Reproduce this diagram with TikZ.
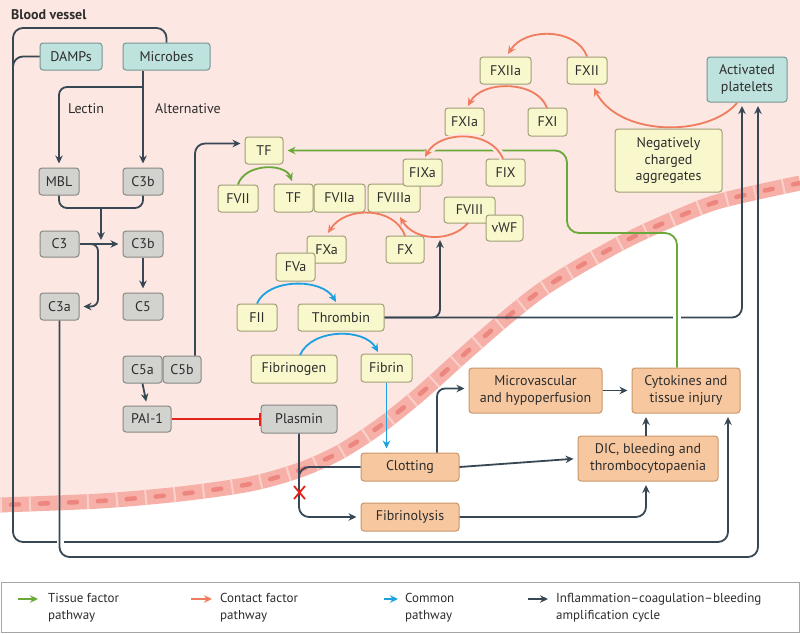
\documentclass[tikz,border=0pt]{standalone}
\usepackage{fontspec}
\setmainfont{PT Sans}
\usetikzlibrary{arrows.meta}
\definecolor{bgpink}{RGB}{252,231,226}
\definecolor{cellpink}{RGB}{246,176,168}
\definecolor{cellgap}{RGB}{250,208,202}
\definecolor{nucpink}{RGB}{236,134,126}
\definecolor{dk}{RGB}{55,71,84}
\definecolor{gr}{RGB}{106,168,58}
\definecolor{orn}{RGB}{240,124,94}
\definecolor{blu}{RGB}{28,160,222}
\definecolor{rd}{RGB}{226,35,26}
\definecolor{yfill}{RGB}{249,247,204}
\definecolor{ydraw}{RGB}{160,158,120}
\definecolor{gfill}{RGB}{210,211,207}
\definecolor{gdraw}{RGB}{135,137,132}
\definecolor{tfill}{RGB}{190,226,221}
\definecolor{tdraw}{RGB}{120,150,148}
\definecolor{ofill}{RGB}{247,200,160}
\definecolor{odraw}{RGB}{200,150,105}
\definecolor{txt}{RGB}{45,45,45}
\tikzset{
  box/.style={rounded corners=3pt, line width=1pt, inner sep=0pt, align=center, text=txt, font=\fontsize{14}{16.5}\selectfont},
  ybox/.style={box, fill=yfill, draw=ydraw},
  gbox/.style={box, fill=gfill, draw=gdraw},
  tbox/.style={box, fill=tfill, draw=tdraw},
  obox/.style={box, fill=ofill, draw=odraw},
  lbl/.style={text=txt, font=\fontsize{14}{16.5}\selectfont, inner sep=0pt},
  legtxt/.style={text=txt, font=\fontsize{13}{17}\selectfont, inner sep=0pt, anchor=west, align=left},
  tip/.style={-{Stealth[length=8pt,width=7.5pt]}},
  dline/.style={draw=dk, line width=1.8pt},
  darr/.style={dline, tip, shorten >=4pt},
  garr/.style={draw=gr, line width=1.8pt, tip},
  oarr/.style={draw=orn, line width=1.8pt, tip},
  barr/.style={draw=blu, line width=1.8pt, tip},
  halo/.style={preaction={draw=bgpink, line width=7pt, -}}
}
\begin{document}
\begin{tikzpicture}[x=1pt,y=-1pt]
\useasboundingbox (0,0) rectangle (800,633);
\fill[white] (0,0) rectangle (800,633);
% pink lumen
\fill[bgpink] (0,0) -- plot[smooth] coordinates {(0,505) (100,501) (180,494) (250,484) (300,470) (340,452) (380,426) (420,394) (460,358) (500,323) (540,291) (580,266) (627,240) (673,219) (720,201) (800,183)} -- (800,0) -- cycle;
% vessel wall: cells, cell borders, nuclei
\draw[cellpink, line width=15pt] plot[smooth] coordinates {(0,505) (100,501) (180,494) (250,484) (300,470) (340,452) (380,426) (420,394) (460,358) (500,323) (540,291) (580,266) (627,240) (673,219) (720,201) (800,183)};
\draw[cellgap, line width=15pt, dash pattern=on 2pt off 27pt] plot[smooth] coordinates {(0,505) (100,501) (180,494) (250,484) (300,470) (340,452) (380,426) (420,394) (460,358) (500,323) (540,291) (580,266) (627,240) (673,219) (720,201) (800,183)};
\draw[nucpink, line width=4.5pt, line cap=round, dash pattern=on 8pt off 21pt, dash phase=18pt] plot[smooth] coordinates {(0,505) (100,501) (180,494) (250,484) (300,470) (340,452) (380,426) (420,394) (460,358) (500,323) (540,291) (580,266) (627,240) (673,219) (720,201) (800,183)};

\node[anchor=west, text=txt, font=\bfseries\fontsize{14}{16}\selectfont, inner sep=0pt] (title) at (11,15) {Blood vessel};

% teal boxes
\node[tbox, minimum width=62, minimum height=27] (damps) at (71,56.5) {DAMPs};
\node[tbox, minimum width=87, minimum height=27] (mic) at (166.5,56.5) {Microbes};
\node[tbox, minimum width=80, minimum height=45] (plt) at (747,79.5) {Activated\\platelets};

% grey boxes
\node[gbox, minimum width=40, minimum height=27] (mbl) at (59,181.5) {MBL};
\node[gbox, minimum width=40, minimum height=27] (c3ba) at (143,181.5) {C3b};
\node[gbox, minimum width=39, minimum height=26] (c3) at (59.5,244) {C3};
\node[gbox, minimum width=40, minimum height=26] (c3bb) at (143,244) {C3b};
\node[gbox, minimum width=39, minimum height=27] (c3a) at (59.5,306.5) {C3a};
\node[gbox, minimum width=40, minimum height=27] (c5) at (143,306.5) {C5};
\node[gbox, minimum width=39, minimum height=27] (c5a) at (142.5,369.5) {C5a};
\node[gbox, minimum width=38, minimum height=27] (c5b) at (182,369.5) {C5b};
\node[gbox, minimum width=48, minimum height=26] (pai) at (147,419) {PAI-1};
\node[gbox, minimum width=76, minimum height=28] (pls) at (299,419) {Plasmin};

% yellow boxes
\node[ybox, minimum width=51, minimum height=27] (fxiia) at (505.5,70.5) {FXIIa};
\node[ybox, minimum width=40, minimum height=27] (fxii) at (587,70.5) {FXII};
\node[ybox, minimum width=39, minimum height=28] (fxia) at (464.5,122) {FXIa};
\node[ybox, minimum width=39, minimum height=28] (fxi) at (547.5,122) {FXI};
\node[ybox, minimum width=38, minimum height=27] (tfa) at (264,150.5) {TF};
\node[ybox, minimum width=52, minimum height=28] (fviiia) at (394,198) {FVIIIa};
\node[ybox, minimum width=39, minimum height=27] (fixa) at (422.5,172.5) {FIXa};
\node[ybox, minimum width=39, minimum height=27] (fix) at (505.5,172.5) {FIX};
\node[ybox, minimum width=40, minimum height=27] (fvii) at (238,198.5) {FVII};
\node[ybox, minimum width=39, minimum height=28] (tfb) at (293.5,198) {TF};
\node[ybox, minimum width=51, minimum height=28] (fviia) at (339.5,198) {FVIIa};
\node[ybox, minimum width=51, minimum height=26] (fviii) at (469.5,210) {FVIII};
\node[ybox, minimum width=37, minimum height=26] (vwf) at (504.5,228) {vWF};
\node[ybox, minimum width=38, minimum height=27] (fx) at (405,249.5) {FX};
\node[ybox, minimum width=39, minimum height=27] (fxa) at (326.5,249.5) {FXa};
\node[ybox, minimum width=39, minimum height=28] (fva) at (295.5,267) {FVa};
\node[ybox, minimum width=40, minimum height=27] (fii) at (257,317.5) {FII};
\node[ybox, minimum width=86, minimum height=27] (thr) at (341,317.5) {Thrombin};
\node[ybox, minimum width=86, minimum height=28] (fbg) at (294,369) {Fibrinogen};
\node[ybox, minimum width=51, minimum height=28] (fib) at (386.5,368) {Fibrin};
\node[ybox, minimum width=107, minimum height=63] (neg) at (668.5,160.5) {Negatively\\charged\\aggregates};

% orange boxes
\node[obox, minimum width=133, minimum height=45] (micro) at (535.5,390.5) {Microvascular\\and hypoperfusion};
\node[obox, minimum width=108, minimum height=45] (cyt) at (686,390.5) {Cytokines and\\tissue injury};
\node[obox, minimum width=140, minimum height=45] (dic) at (648,458.5) {DIC, bleeding and\\thrombocytopaenia};
\node[obox, minimum width=98, minimum height=28] (clot) at (410,467) {Clotting};
\node[obox, minimum width=98, minimum height=28] (fibl) at (410,517) {Fibrinolysis};

% labels
\node[lbl] (lectin) at (86,109) {Lectin};
\node[lbl] (alt) at (188,109) {Alternative};

% dark connectors
\draw[dline, rounded corners=10] (damps.west) -| (13,95);
\draw[darr, rounded corners=10] (mic.north) |- (13,28) |- (728,542) -- (728,413);
\draw[white, line width=7pt] (60,537) -- (60,547);
\draw[darr, rounded corners=10] (c3a.south) |- (758,557) -- (758,102);
\draw[darr] (mic.south -| c3ba.north) -- (c3ba.north);
\draw[darr, rounded corners=8] (143,87) -| (mbl.north);
\draw[dline, rounded corners=8] (mbl.south) |- (101,208) -| (c3ba.south);
\draw[darr] (101,208) -- (101,244);
\draw[darr] (c3.east) -- (c3bb.west);
\draw[darr, rounded corners=7] (89,244) -| (98,306.5) -- (c3a.east);
\draw[darr] (c3bb.south) -- (c5.north);
\draw[darr] (c5a.south) -- (pai.north);
\draw[darr, rounded corners=10] ([xshift=13pt]c5b.north) |- ([yshift=7pt]tfa.west);
\draw[rd, line width=1.8pt, -{Bar[width=13pt, line width=1.8pt]}] (pai.east) -- (pls.west);
\draw[darr, rounded corners=10] (pls.south) |- (fibl.west);
\draw[dline, rounded corners=10] (clot.west) -| (299,492);
\draw[darr] (clot.east) -- (dic.west);
\draw[darr, rounded corners=8] ([xshift=27pt]clot.north) |- ([yshift=2pt]micro.west);
\draw[darr] (micro.east) -- (cyt.west);
\draw[darr] (646,436) -- (646,413);
\draw[darr, rounded corners=10] (fibl.east) -| (646,481);
\draw[darr, rounded corners=10] (thr.east) -| (742,102);
\draw[darr, rounded corners=8] (thr.east) -| (440,236);
\draw[rd, line width=1.8pt] (294,486) -- (305,499) (305,486) -- (294,499);

% green (tissue factor pathway)
\draw[white, line width=8pt] (677,311) -- (677,325);
\draw[garr, shorten >=4pt, rounded corners=12] ([xshift=-9pt]cyt.north) |- (567,233) |- (tfa.east);
\draw[garr] (fvii.north) .. controls (245,163) and (285,163) .. (292,181);

% orange (contact factor pathway)
\draw[oarr] (fxii.north) .. controls (577,28) and (525,27) .. (508,54);
\draw[oarr] (737,103) .. controls (707,138) and (618,136) .. (594,88);
\draw[oarr] (547,108) .. controls (537,80) and (482,80) .. (468,106);
\draw[oarr, halo] (503,159) .. controls (492,130) and (440,130) .. (425,157);
\draw[oarr] (468,223) .. controls (452,242) and (415,242) .. (400,217);
\draw[oarr] (405,236) .. controls (395,206) and (345,206) .. (328,233);

% blue (common pathway)
\draw[barr] (fii.north) .. controls (268,278) and (322,278) .. (336,302);
\draw[barr] (300,355) .. controls (312,328) and (365,328) .. (378,352);
\draw[barr, shorten >=4pt] (fib.south) -- (fib.south |- clot.north);

% legend
\draw[draw=black!35, line width=1pt] (1,582) rectangle (799,632);
\coordinate (lg1a) at (18,599); \coordinate (lg1b) at (38,599);
\coordinate (lg2a) at (191,599); \coordinate (lg2b) at (212,599);
\coordinate (lg3a) at (384,599); \coordinate (lg3b) at (398,599);
\coordinate (lg4a) at (528,599); \coordinate (lg4b) at (548,599);
\draw[garr] (lg1a) -- (lg1b);
\draw[oarr] (lg2a) -- (lg2b);
\draw[barr] (lg3a) -- (lg3b);
\draw[dline, tip] (lg4a) -- (lg4b);
\node[legtxt] (l1) at (48,608) {Tissue factor\\pathway};
\node[legtxt] (l2) at (220,608) {Contact factor\\pathway};
\node[legtxt] (l3) at (405,608) {Common\\pathway};
\node[legtxt] (l4) at (556,608) {Inflammation–coagulation–bleeding\\amplification cycle};
\end{tikzpicture}
\end{document}
